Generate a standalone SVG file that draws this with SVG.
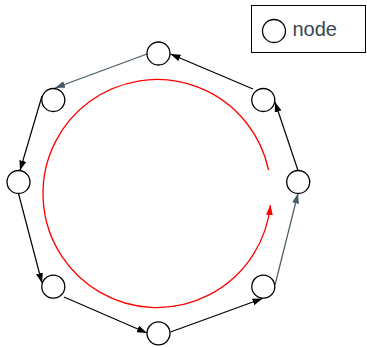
<svg xmlns="http://www.w3.org/2000/svg" width="367" height="347" viewBox="0 0 367 347">
<style>
.node{fill:#fff;stroke:#000;stroke-width:1.3}
.e{fill:none;stroke:#000;stroke-width:1.2;marker-end:url(#ab)}
.g{stroke:#455a64;marker-end:url(#ag)}
.lbl{font-family:"Liberation Sans",Arial,sans-serif;font-size:20px;fill:#37474f}
</style>
<defs>
<marker id="ab" markerUnits="userSpaceOnUse" viewBox="0 0 10 7" markerWidth="10" markerHeight="7" refX="10" refY="3.5" orient="auto"><path d="M0,0L10,3.5L0,7z" fill="#000"/></marker>
<marker id="ag" markerUnits="userSpaceOnUse" viewBox="0 0 10 7" markerWidth="10" markerHeight="7" refX="10" refY="3.5" orient="auto"><path d="M0,0L10,3.5L0,7z" fill="#455a64"/></marker>
<marker id="ar" markerUnits="userSpaceOnUse" viewBox="0 0 10 7" markerWidth="10" markerHeight="7" refX="10" refY="3.5" orient="auto"><path d="M0,0L10,3.5L0,7z" fill="#f00"/></marker>
</defs>
<g id="legend">
<rect x="251.5" y="5.5" width="114" height="47" fill="#fff" stroke="#000" stroke-width="1"/>
<circle class="node" cx="274" cy="31" r="11.5"/>
<text class="lbl" x="292.5" y="36">node</text>
</g>
<g id="cycle">
<path d="M268.55,170 A114,114 0 1 0 270.42,205.02" fill="none" stroke="#f00" stroke-width="1.3" marker-end="url(#ar)"/>
</g>
<g id="connectors">
<line class="e g" x1="147" y1="54" x2="55" y2="88"/>
<line class="e" x1="253" y1="89" x2="170.5" y2="54"/>
<line class="e" x1="298" y1="170.5" x2="275" y2="102"/>
<line class="e g" x1="275" y1="285" x2="298" y2="193.5"/>
<line class="e" x1="170.5" y1="332" x2="262.5" y2="298.5"/>
<line class="e" x1="64" y1="297" x2="147" y2="333"/>
<line class="e" x1="18.5" y1="193.5" x2="42" y2="283"/>
<line class="e" x1="42" y1="96" x2="20" y2="170.5"/>
</g>
<g id="n0"><circle class="node" cx="158.5" cy="53.5" r="11.5"/></g>
<g id="n1"><circle class="node" cx="53.3" cy="100" r="11.5"/></g>
<g id="n2"><circle class="node" cx="18.5" cy="182" r="11.5"/></g>
<g id="n3"><circle class="node" cx="53.3" cy="286.7" r="11.5"/></g>
<g id="n4"><circle class="node" cx="158.5" cy="333.3" r="11.5"/></g>
<g id="n5"><circle class="node" cx="263.3" cy="286.7" r="11.5"/></g>
<g id="n6"><circle class="node" cx="298.2" cy="182" r="11.5"/></g>
<g id="n7"><circle class="node" cx="263.3" cy="100" r="11.5"/></g>
</svg>
